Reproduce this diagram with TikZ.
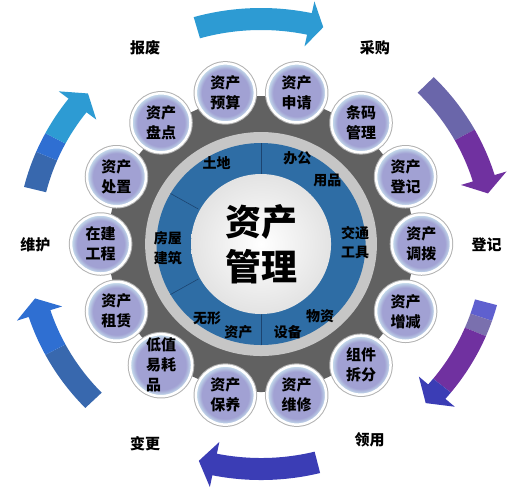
\documentclass[tikz,border=0pt]{standalone}
\usepackage{fontspec}
\newfontfamily\cjk{Noto Sans CJK SC}
\usepackage{tikz}

\definecolor{lav}{HTML}{A1A1D3}
\definecolor{rim}{HTML}{C2D8EA}
\definecolor{ringblue}{HTML}{2E6DA5}
\definecolor{ringline}{HTML}{1C4470}
\definecolor{arrcyan}{HTML}{2D9BD3}
\definecolor{arrslate}{HTML}{6A66AA}
\definecolor{arrgrey}{HTML}{7A70AE}
\definecolor{arrpurple}{HTML}{7031A0}
\definecolor{arrindigo}{HTML}{3B3DB5}
\definecolor{arrlight}{HTML}{5F60CF}
\definecolor{arrblue}{HTML}{2F6FD2}
\definecolor{arrsteel}{HTML}{3868AE}

\pgfdeclareradialshading{assetball}{\pgfpoint{0bp}{0bp}}{color(0bp)=(lav); color(20bp)=(lav); color(24bp)=(rim); color(25bp)=(rim); color(50bp)=(rim)}

% one coloured slice of an arrow, used inside the clip
\newcommand{\arrowpart}[3]{\fill[#3] (0,0) -- (#1:262) arc[start angle=#1, end angle=#2, radius=262] -- cycle;}
% tail angle, base of head, tip angle, slices
\newcommand{\cyclearrow}[4]{%
  \begin{scope}
    \clip (#1:214) arc[start angle=#1, end angle=#2, radius=214] -- (#2:202) -- (#3:225)
      -- (#2:248) -- (#2:236) arc[start angle=#2, end angle=#1, radius=236] -- cycle;
    #4
  \end{scope}}

\begin{document}
\begin{tikzpicture}[x=1.035pt,y=1pt,
  asset/.style={circle,minimum size=59pt,inner sep=0pt,shading=assetball,
    draw=white,line width=2.5pt,preaction={draw=black!30,line width=4.5pt},
    font=\cjk\bfseries\fontsize{15}{20}\selectfont,align=center},
  ringtext/.style={font=\cjk\bfseries\fontsize{14}{18}\selectfont},
  stage/.style={font=\cjk\bfseries\fontsize{15}{18}\selectfont}]
  \useasboundingbox (-252.2,-244) rectangle (244.4,244);

  % outer cycle
  \cyclearrow{106}{78}{74.5}{\arrowpart{115}{60}{arrcyan}}
  \cyclearrow{45}{17}{13}{\arrowpart{50}{29}{arrslate}\arrowpart{29}{0}{arrpurple}}
  \cyclearrow{-15}{-41}{-45}{\arrowpart{-5}{-19}{arrlight}\arrowpart{-19}{-23}{arrgrey}
    \arrowpart{-23}{-39}{arrpurple}\arrowpart{-39}{-55}{arrindigo}}
  \cyclearrow{-76}{-101.5}{-105.5}{\arrowpart{-65}{-120}{arrindigo}}
  \cyclearrow{224}{198}{194}{\arrowpart{230}{208}{arrsteel}\arrowpart{208}{180}{arrblue}}
  \cyclearrow{166}{142}{138}{\arrowpart{175}{157}{arrsteel}\arrowpart{157}{152}{arrblue}
    \arrowpart{152}{125}{arrcyan}}

  \node[stage] (baofei) at (-112,196) {报废};
  \node[stage] (caigou) at (110,196) {采购};
  \node[stage] (dengji) at (218,-1) {登记};
  \node[stage] (lingyong) at (105,-196) {领用};
  \node[stage] (biangeng) at (-112,-200) {变更};
  \node[stage] (weihu) at (-218,-1) {维护};

  % rings
  \fill[black!62] (0,0) circle[radius=148];
  \fill[gray!45] (0,0) circle[radius=112];
  \fill[ringblue] (0,0) circle[radius=101];
  \foreach \a in {90,150,210,270}
    \draw[ringline,line width=0.6pt] (\a:70) -- (\a:101);

  \node[circle,minimum size=140pt,inner sep=0pt,inner color=white,outer color=gray!22,
    font=\cjk\bfseries\fontsize{36}{45}\selectfont,align=center] (core) at (0,0) {资产\\管理};

  \node[ringtext] (tudi) at (-43,81) {土地};
  \node[ringtext] (bangong) at (35,86) {办公};
  \node[ringtext] (yongpin) at (64,64) {用品};
  \node[ringtext] (jiaotong) at (91,11) {交通};
  \node[ringtext] (gongju) at (91,-8) {工具};
  \node[ringtext] (wuzi) at (57,-72) {物资};
  \node[ringtext] (shebei) at (26,-88) {设备};
  \node[ringtext] (wuxing) at (-52,-74) {无形};
  \node[ringtext] (zichan) at (-22,-88) {资产};
  \node[ringtext] (fangwu) at (-90,6) {房屋};
  \node[ringtext] (jianzhu) at (-90,-14) {建筑};

  % asset circles, counter-clockwise from the right
  \foreach \t [count=\i from 0] in {{资产\\调拨},{资产\\登记},{条码\\管理},{资产\\申请},
      {资产\\预算},{资产\\盘点},{资产\\处置},{在建\\工程},{资产\\租赁},
      {低值\\易耗\\品\hphantom{品}},{资产\\保养},{资产\\维修},{组件\\拆分},{资产\\增减}}
    \node[asset] (asset\i) at ({\i*360/14}:155) {\t};
\end{tikzpicture}
\end{document}
